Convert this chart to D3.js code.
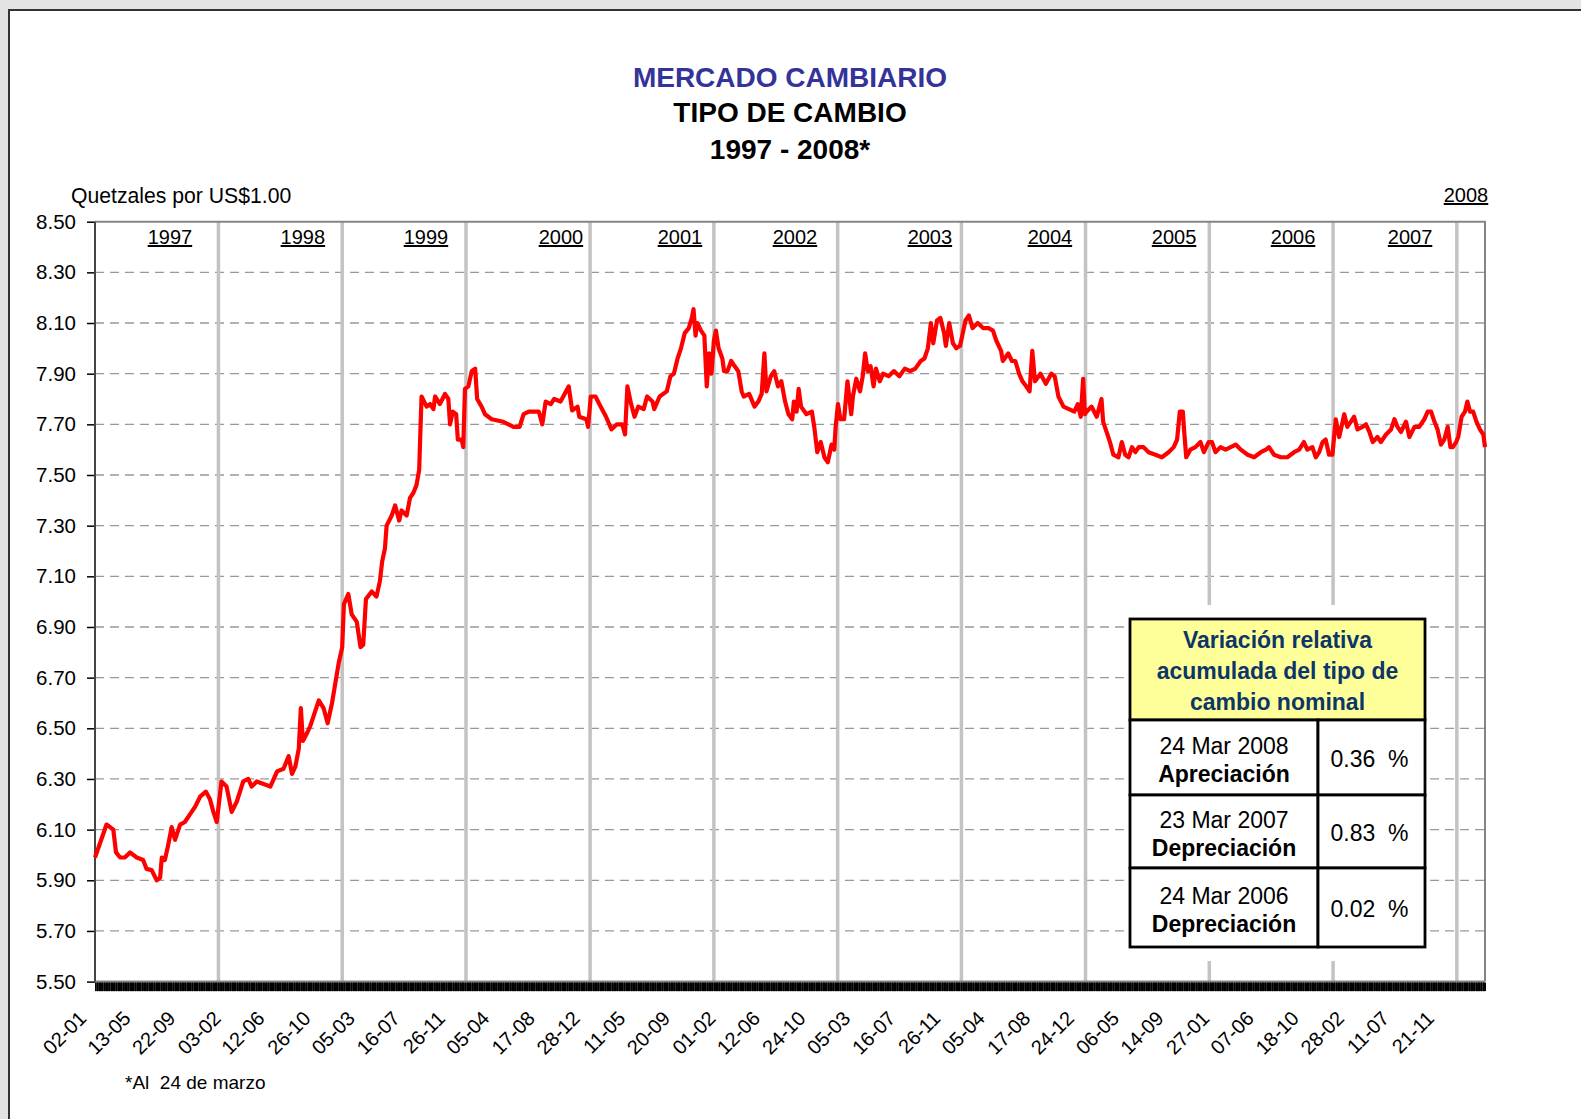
<!DOCTYPE html>
<html>
<head>
<meta charset="utf-8">
<script src="https://cdn.jsdelivr.net/npm/d3@7"></script>
<style>
  body { margin: 0; background: #fff; }
  svg { display: block; }
  text { font-family: "Liberation Sans", Arial, sans-serif; }
</style>
</head>
<body>
<script>
// tipo de cambio Q por US$ (lecturas aproximadas del grafico)
var tc1997 = [["1997-01-02",5.99],["1997-02-05",6.12],["1997-02-25",6.10],["1997-03-05",6.01],["1997-03-17",5.99],["1997-03-31",5.99],["1997-04-15",6.01],["1997-05-05",5.99],["1997-05-24",5.98],["1997-06-03",5.945],["1997-06-18",5.94],["1997-07-03",5.90],["1997-07-13",5.91],["1997-07-18",5.99],["1997-07-27",5.98],["1997-08-06",6.04],["1997-08-16",6.11],["1997-08-26",6.06],["1997-09-10",6.12],["1997-09-24",6.13],["1997-10-09",6.16],["1997-10-24",6.19],["1997-11-08",6.23],["1997-11-25",6.25],["1997-12-07",6.22],["1997-12-17",6.17],["1997-12-27",6.13]];
var tc1998 = [["1998-01-10",6.29],["1998-01-25",6.27],["1998-02-09",6.17],["1998-02-24",6.21],["1998-03-15",6.29],["1998-03-30",6.30],["1998-04-09",6.27],["1998-04-24",6.29],["1998-05-14",6.28],["1998-06-03",6.27],["1998-06-23",6.33],["1998-07-12",6.34],["1998-07-27",6.39],["1998-08-06",6.32],["1998-08-16",6.35],["1998-08-26",6.42],["1998-09-01",6.58],["1998-09-07",6.45],["1998-09-19",6.48],["1998-09-29",6.51],["1998-10-09",6.55],["1998-10-24",6.61],["1998-11-07",6.58],["1998-11-19",6.52],["1998-12-02",6.60],["1998-12-12",6.68],["1998-12-22",6.76]];
var tc1999 = [["1999-01-01",6.82],["1999-01-06",6.99],["1999-01-19",7.03],["1999-01-29",6.95],["1999-02-13",6.92],["1999-02-24",6.82],["1999-03-04",6.83],["1999-03-12",7.01],["1999-03-29",7.04],["1999-04-12",7.02],["1999-04-22",7.08],["1999-04-29",7.16],["1999-05-07",7.21],["1999-05-12",7.30],["1999-05-27",7.34],["1999-06-06",7.38],["1999-06-18",7.32],["1999-06-25",7.36],["1999-07-10",7.34],["1999-07-20",7.41],["1999-07-30",7.43],["1999-08-08",7.46],["1999-08-16",7.52],["1999-08-20",7.69],["1999-08-23",7.81],["1999-09-07",7.77],["1999-09-17",7.78],["1999-09-27",7.76],["1999-10-02",7.81],["1999-10-16",7.78],["1999-10-31",7.82],["1999-11-10",7.80],["1999-11-15",7.70],["1999-11-23",7.75],["1999-12-03",7.74],["1999-12-08",7.64],["1999-12-19",7.64],["1999-12-24",7.61],["1999-12-29",7.84]];
var tc2000 = [["2000-01-08",7.85],["2000-01-18",7.91],["2000-01-28",7.92],["2000-02-03",7.80],["2000-02-16",7.77],["2000-02-26",7.74],["2000-03-17",7.72],["2000-04-20",7.71],["2000-05-20",7.69],["2000-06-07",7.69],["2000-06-19",7.74],["2000-07-04",7.75],["2000-08-03",7.75],["2000-08-13",7.70],["2000-08-23",7.79],["2000-09-07",7.78],["2000-09-17",7.80],["2000-10-06",7.79],["2000-10-30",7.85],["2000-11-09",7.755],["2000-11-25",7.77],["2000-11-30",7.73],["2000-12-21",7.72],["2000-12-26",7.69]];
var tc2001 = [["2001-01-03",7.81],["2001-01-17",7.81],["2001-02-01",7.77],["2001-02-17",7.73],["2001-03-05",7.68],["2001-03-21",7.70],["2001-04-06",7.70],["2001-04-14",7.66],["2001-04-21",7.85],["2001-05-02",7.78],["2001-05-12",7.73],["2001-05-23",7.77],["2001-06-08",7.76],["2001-06-18",7.81],["2001-07-04",7.79],["2001-07-09",7.76],["2001-07-25",7.81],["2001-08-15",7.83],["2001-08-26",7.89],["2001-09-05",7.90],["2001-09-16",7.96],["2001-09-26",8.00],["2001-10-07",8.06],["2001-10-19",8.08],["2001-10-28",8.12],["2001-11-02",8.155],["2001-11-08",8.05],["2001-11-13",8.10],["2001-11-24",8.07],["2001-12-04",8.05],["2001-12-11",7.85],["2001-12-18",7.98],["2001-12-25",7.90]];
var tc2002 = [["2002-01-01",8.03],["2002-01-07",8.07],["2002-01-15",8.00],["2002-01-26",7.96],["2002-01-31",7.91],["2002-02-10",7.91],["2002-02-21",7.95],["2002-03-03",7.93],["2002-03-14",7.91],["2002-03-24",7.83],["2002-03-30",7.81],["2002-04-15",7.82],["2002-05-01",7.77],["2002-05-12",7.79],["2002-05-22",7.82],["2002-05-30",7.98],["2002-06-05",7.83],["2002-06-18",7.89],["2002-06-28",7.91],["2002-07-09",7.85],["2002-07-19",7.87],["2002-07-30",7.79],["2002-08-09",7.74],["2002-08-20",7.72],["2002-08-25",7.79],["2002-09-02",7.75],["2002-09-08",7.84],["2002-09-15",7.77],["2002-10-01",7.74],["2002-10-17",7.75],["2002-10-24",7.69],["2002-11-02",7.59],["2002-11-12",7.63],["2002-11-23",7.57],["2002-12-03",7.55],["2002-12-14",7.62],["2002-12-22",7.60],["2002-12-26",7.69]];
var tc2003 = [["2003-01-02",7.78],["2003-01-09",7.72],["2003-01-20",7.72],["2003-01-30",7.87],["2003-02-10",7.74],["2003-02-15",7.81],["2003-02-25",7.88],["2003-03-08",7.83],["2003-03-16",7.89],["2003-03-23",7.98],["2003-03-31",7.91],["2003-04-08",7.93],["2003-04-17",7.85],["2003-04-24",7.92],["2003-05-05",7.87],["2003-05-15",7.90],["2003-05-31",7.89],["2003-06-16",7.91],["2003-07-02",7.89],["2003-07-18",7.92],["2003-08-03",7.91],["2003-08-18",7.92],["2003-09-03",7.95],["2003-09-14",7.96],["2003-09-24",8.00],["2003-10-03",8.10],["2003-10-10",8.02],["2003-10-21",8.11],["2003-10-31",8.12],["2003-11-11",8.06],["2003-11-16",8.01],["2003-11-26",8.10],["2003-12-07",8.02],["2003-12-17",8.00],["2003-12-28",8.01]];
var tc2004 = [["2004-01-05",8.06],["2004-01-13",8.11],["2004-01-23",8.13],["2004-02-03",8.08],["2004-02-18",8.10],["2004-03-05",8.08],["2004-03-21",8.08],["2004-04-03",8.07],["2004-04-13",8.03],["2004-04-27",7.99],["2004-05-02",7.95],["2004-05-18",7.98],["2004-05-29",7.95],["2004-06-08",7.95],["2004-06-19",7.90],["2004-06-29",7.87],["2004-07-10",7.85],["2004-07-20",7.83],["2004-07-28",7.99],["2004-08-05",7.87],["2004-08-21",7.90],["2004-09-06",7.86],["2004-09-22",7.90],["2004-10-02",7.89],["2004-10-13",7.81],["2004-10-28",7.77],["2004-11-13",7.76],["2004-11-29",7.75],["2004-12-09",7.78],["2004-12-18",7.73],["2004-12-25",7.88],["2004-12-30",7.74]];
var tc2005 = [["2005-01-04",7.75],["2005-01-19",7.77],["2005-02-03",7.73],["2005-02-17",7.80],["2005-02-22",7.71],["2005-03-04",7.67],["2005-03-14",7.63],["2005-03-24",7.58],["2005-04-08",7.57],["2005-04-18",7.63],["2005-04-28",7.58],["2005-05-08",7.57],["2005-05-18",7.61],["2005-05-28",7.59],["2005-06-07",7.61],["2005-06-21",7.61],["2005-07-06",7.59],["2005-07-26",7.58],["2005-08-14",7.57],["2005-09-03",7.59],["2005-09-18",7.61],["2005-09-28",7.64],["2005-10-06",7.75],["2005-10-15",7.75],["2005-10-19",7.67],["2005-10-25",7.57],["2005-11-06",7.60],["2005-11-21",7.61],["2005-12-06",7.63],["2005-12-16",7.59],["2005-12-30",7.63]];
var tc2006 = [["2006-01-09",7.63],["2006-01-19",7.59],["2006-02-03",7.61],["2006-02-18",7.60],["2006-03-05",7.61],["2006-03-20",7.62],["2006-04-04",7.60],["2006-04-24",7.58],["2006-05-13",7.57],["2006-06-02",7.59],["2006-06-17",7.60],["2006-06-26",7.61],["2006-07-11",7.58],["2006-07-31",7.57],["2006-08-19",7.57],["2006-09-08",7.59],["2006-09-23",7.60],["2006-10-07",7.63],["2006-10-17",7.60],["2006-11-01",7.61],["2006-11-11",7.57],["2006-11-21",7.59],["2006-12-01",7.63],["2006-12-10",7.64],["2006-12-20",7.58],["2006-12-30",7.58]];
var tc2007 = [["2007-01-09",7.72],["2007-01-19",7.65],["2007-02-03",7.74],["2007-02-12",7.69],["2007-02-22",7.71],["2007-03-04",7.73],["2007-03-14",7.68],["2007-03-29",7.69],["2007-04-08",7.70],["2007-04-18",7.67],["2007-04-28",7.63],["2007-05-12",7.65],["2007-05-22",7.63],["2007-06-06",7.66],["2007-06-21",7.68],["2007-07-01",7.72],["2007-07-10",7.69],["2007-07-20",7.67],["2007-08-04",7.71],["2007-08-14",7.65],["2007-08-29",7.69],["2007-09-12",7.69],["2007-09-27",7.72],["2007-10-07",7.75],["2007-10-17",7.75],["2007-10-27",7.71],["2007-11-05",7.68],["2007-11-15",7.62],["2007-11-25",7.64],["2007-12-05",7.69],["2007-12-13",7.61],["2007-12-20",7.61],["2007-12-30",7.63]];
var tc2008 = [["2008-01-05",7.65],["2008-01-15",7.73],["2008-01-25",7.75],["2008-02-01",7.79],["2008-02-09",7.75],["2008-02-18",7.75],["2008-02-28",7.71],["2008-03-09",7.68],["2008-03-19",7.66],["2008-03-24",7.61]];

var fechaInicio = "1997-01-02", fechaFin = "2008-03-24";
var yTicks = [5.50, 5.70, 5.90, 6.10, 6.30, 6.50, 6.70, 6.90, 7.10, 7.30, 7.50, 7.70, 7.90, 8.10, 8.30, 8.50];
var etiquetasX = ["1997-01-02","1997-05-13","1997-09-22","1998-02-03","1998-06-12","1998-10-26","1999-03-05","1999-07-16","1999-11-26","2000-04-05","2000-08-17","2000-12-28","2001-05-11","2001-09-20","2002-02-01","2002-06-12","2002-10-24","2003-03-05","2003-07-16","2003-11-26","2004-04-05","2004-08-17","2004-12-24","2005-05-06","2005-09-14","2006-01-27","2006-06-07","2006-10-18","2007-02-28","2007-07-11","2007-11-21"];
var anios = ["1997","1998","1999","2000","2001","2002","2003","2004","2005","2006","2007","2008"];
var aniosFecha = ["1997-08-11","1998-09-07","1999-09-05","2000-10-07","2001-09-23","2002-08-28","2003-09-30","2004-09-18","2005-09-19","2006-09-05","2007-08-16","2008-01-28"];

var tablaTitulo = ["Variación relativa", "acumulada del tipo de", "cambio nominal"];
var tablaFechas = ["24 Mar 2008", "23 Mar 2007", "24 Mar 2006"];
var tablaTipo = ["Apreciación", "Depreciación", "Depreciación"];
var tablaPct = [0.36, 0.83, 0.02];

function dibujar() {
    var parse = d3.timeParse("%Y-%m-%d");
    var serie = [].concat(tc1997, tc1998, tc1999, tc2000, tc2001, tc2002, tc2003, tc2004, tc2005, tc2006, tc2007, tc2008)
        .map(function (d) { return { fecha: parse(d[0]), v: d[1] }; });

    var W = 1581, H = 1119;
    var svg = d3.select("body").append("svg").attr("width", W).attr("height", H);
    var pLeft = 95, pRight = 1485, pTop = 221.7, pBottom = 981.6;

    // fondo gris fuera del marco
    svg.append("rect").attr("width", W).attr("height", H).attr("fill", "#e3e3e3");
    svg.append("rect").attr("x", 9).attr("y", 10).attr("width", W).attr("height", H).attr("fill", "#fff");
    svg.append("path").attr("d", "M9," + H + "V10H" + W).attr("fill", "none").attr("stroke", "#333").attr("stroke-width", 2);

    var x = d3.scaleTime().domain([parse(fechaInicio), parse(fechaFin)]).range([pLeft, pRight]);
    var y = d3.scaleLinear().domain([5.5, 8.5]).range([pBottom, pTop]);

    // titulos
    var titulo = svg.append("g").attr("text-anchor", "middle").attr("font-weight", "bold").attr("font-size", 28);
    titulo.append("text").attr("x", 790).attr("y", 87).attr("fill", "#333399").text("MERCADO CAMBIARIO");
    titulo.append("text").attr("x", 790).attr("y", 122).text("TIPO DE CAMBIO");
    titulo.append("text").attr("x", 790).attr("y", 159).text("1997 - 2008*");

    svg.append("text").attr("x", 71).attr("y", 203).attr("font-size", 21.2).text("Quetzales por US$1.00");

    // rejilla
    svg.append("g").selectAll("line")
        .data(yTicks.filter(function (d) { return d > 5.5 && d < 8.5; }))
        .enter().append("line")
        .attr("x1", pLeft).attr("x2", pRight)
        .attr("y1", function (d) { return y(d); }).attr("y2", function (d) { return y(d); })
        .attr("stroke", "#999").attr("stroke-width", 1.3).attr("stroke-dasharray", "9,6");

    // lineas de inicio de anio
    var inicios = d3.timeYear.range(parse("1997-06-01"), parse(fechaFin));
    svg.append("g").selectAll("line")
        .data(inicios).enter().append("line")
        .attr("x1", function (d) { return x(d); }).attr("x2", function (d) { return x(d); })
        .attr("y1", pTop).attr("y2", pBottom)
        .attr("stroke", "#c3c3c3").attr("stroke-width", 3.5);

    // borde del area
    svg.append("path").attr("d", "M" + pLeft + "," + pTop + "H" + pRight + "V" + pBottom)
        .attr("fill", "none").attr("stroke", "#858585").attr("stroke-width", 2);
    svg.append("line").attr("x1", pLeft).attr("x2", pRight).attr("y1", pBottom).attr("y2", pBottom)
        .attr("stroke", "#858585").attr("stroke-width", 2);

    // eje y
    var gy = svg.append("g").attr("transform", "translate(" + pLeft + ",0)")
        .call(d3.axisLeft(y).tickValues(yTicks).tickFormat(d3.format(".2f")).tickSize(8).tickPadding(11));
    gy.select(".domain").remove();
    gy.selectAll(".tick line").attr("stroke", "#000").attr("stroke-width", 1.5);
    gy.selectAll(".tick text").attr("font-size", 20.5).attr("fill", "#000");
    svg.append("line").attr("x1", pLeft).attr("x2", pLeft).attr("y1", pTop).attr("y2", pBottom)
        .attr("stroke", "#444").attr("stroke-width", 2);

    // marcas diarias del eje x
    var habiles = d3.timeDay.range(parse(fechaInicio), d3.timeDay.offset(parse(fechaFin), 1))
        .filter(function (d) { return d.getDay() % 6 !== 0; });
    var gt = svg.append("g").attr("transform", "translate(0," + (pBottom + 1) + ")")
        .call(d3.axisBottom(x).tickValues(habiles).tickSize(8.5).tickFormat(""));
    gt.select(".domain").remove();
    gt.selectAll(".tick line").attr("stroke", "#000").attr("stroke-width", 1);

    // etiquetas del eje x
    var gx = svg.append("g").attr("transform", "translate(0," + pBottom + ")")
        .call(d3.axisBottom(x).tickValues(etiquetasX.map(parse)).tickSize(0).tickFormat(d3.timeFormat("%d-%m")));
    gx.select(".domain").remove();
    gx.selectAll(".tick text")
        .attr("x", 0).attr("y", 0).attr("dy", 0)
        .attr("transform", "translate(-8,38) rotate(-45)")
        .attr("text-anchor", "end")
        .attr("font-size", 20).attr("fill", "#000");

    // anios
    svg.append("g").attr("text-anchor", "middle").attr("font-size", 20)
        .selectAll("text").data(anios).enter().append("text")
        .attr("x", function (d, i) { return x(parse(aniosFecha[i])); })
        .attr("y", function (d, i) { return i === anios.length - 1 ? 202 : 244; })
        .attr("text-decoration", "underline")
        .text(function (d) { return d; });

    // serie
    svg.append("path").datum(serie)
        .attr("fill", "none").attr("stroke", "#ff0000").attr("stroke-width", 4.2)
        .attr("stroke-linejoin", "round")
        .attr("d", d3.line().x(function (d) { return x(d.fecha); }).y(function (d) { return y(d.v); }));

    // cuadro de variacion
    var tx0 = 1130, tx1 = 1318, tx2 = 1425, ty0 = 619, tyH = 720;
    var filas = [[720, 795], [795, 868], [868, 947]];
    svg.append("rect").attr("x", tx0 - 2).attr("y", 605).attr("width", tx2 - tx0 + 4).attr("height", 356).attr("fill", "#fff");
    var tabla = svg.append("g");
    tabla.append("rect").attr("x", tx0).attr("y", ty0).attr("width", tx2 - tx0).attr("height", tyH - ty0)
        .attr("fill", "#ffff99").attr("stroke", "#000").attr("stroke-width", 2.8);
    tabla.append("g").attr("text-anchor", "middle").attr("font-weight", "bold").attr("font-size", 23).attr("fill", "#0d3668")
        .selectAll("text").data(tablaTitulo).enter().append("text")
        .attr("x", (tx0 + tx2) / 2).attr("y", function (d, i) { return 648 + i * 31; })
        .text(function (d) { return d; });

    var fila = tabla.selectAll("g.fila").data(tablaFechas).enter().append("g").attr("class", "fila");
    fila.append("rect").attr("x", tx0).attr("y", function (d, i) { return filas[i][0]; })
        .attr("width", tx1 - tx0).attr("height", function (d, i) { return filas[i][1] - filas[i][0]; })
        .attr("fill", "#fff").attr("stroke", "#000").attr("stroke-width", 2.8);
    fila.append("rect").attr("x", tx1).attr("y", function (d, i) { return filas[i][0]; })
        .attr("width", tx2 - tx1).attr("height", function (d, i) { return filas[i][1] - filas[i][0]; })
        .attr("fill", "#fff").attr("stroke", "#000").attr("stroke-width", 2.8);
    fila.append("text").attr("text-anchor", "middle").attr("font-size", 23)
        .attr("x", (tx0 + tx1) / 2)
        .attr("y", function (d, i) { return (filas[i][0] + filas[i][1]) / 2 - 4; })
        .text(function (d) { return d; });
    fila.append("text").attr("text-anchor", "middle").attr("font-size", 23).attr("font-weight", "bold")
        .attr("x", (tx0 + tx1) / 2)
        .attr("y", function (d, i) { return (filas[i][0] + filas[i][1]) / 2 + 24; })
        .text(function (d, i) { return tablaTipo[i]; });
    fila.append("text").attr("text-anchor", "middle").attr("font-size", 23)
        .style("white-space", "pre")
        .attr("x", (tx1 + tx2) / 2 - 2)
        .attr("y", function (d, i) { return (filas[i][0] + filas[i][1]) / 2 + 9; })
        .text(function (d, i) { return tablaPct[i].toFixed(2) + "  %"; });

    svg.append("text").attr("x", 125).attr("y", 1089).attr("font-size", 19)
        .style("white-space", "pre").text("*Al  24 de marzo");
}

dibujar();
</script>
</body>
</html>
